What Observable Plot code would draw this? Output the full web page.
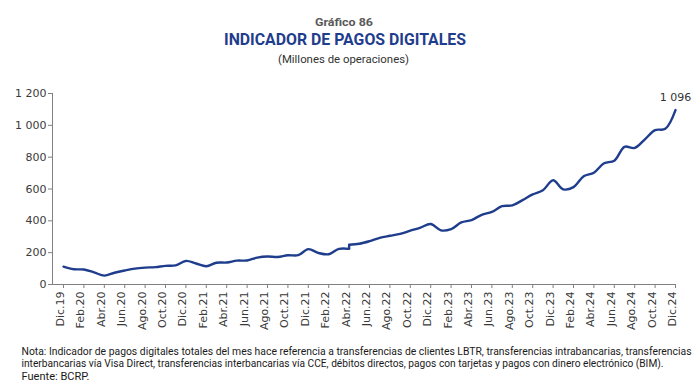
<!DOCTYPE html>
<html><head><meta charset="utf-8">
<script src="https://cdn.jsdelivr.net/npm/d3@7"></script>
<script src="https://cdn.jsdelivr.net/npm/@observablehq/plot@0.6"></script>
<style>
html,body{margin:0;padding:0;background:#fff}
body{width:700px;height:391px;overflow:hidden;position:relative}
#head,#chart,#note{position:absolute;left:0}
#head{top:0}
#chart{top:70px}
#note{top:338px}
</style></head><body>
<div id="head"></div><div id="chart"></div><div id="note"></div>
<script>
// Etiquetas del eje X (cada dos meses, Dic.19 – Dic.24)
const etiquetasX = ["Dic.19","Feb.20","Abr.20","Jun.20","Ago.20","Oct.20","Dic.20","Feb.21","Abr.21","Jun.21","Ago.21","Oct.21","Dic.21","Feb.22","Abr.22","Jun.22","Ago.22","Oct.22","Dic.22","Feb.23","Abr.23","Jun.23","Ago.23","Oct.23","Dic.23","Feb.24","Abr.24","Jun.24","Ago.24","Oct.24","Dic.24"];
// Serie mensual (millones de operaciones), Dic.19 – Abr.22
const valoresA = [112,96,94,76,56,74,88,100,106,109,117,120,148,132,115,137,138,150,151,169,176,173,184,184,222,198,190,224,224];
// Serie mensual ampliada, Abr.22 – Dic.24
const inicioB = 28;
const valoresB = [250,256,272,293,306,318,338,358,380,340,348,390,405,438,456,492,497,530,566,592,655,598,612,680,702,762,778,865,858,912,970,978,1096];
const ticksY = [0,200,400,600,800,1000,1200];

const titulo = "INDICADOR DE PAGOS DIGITALES";
const numero = "Gráfico 86";
const subtitulo = "(Millones de operaciones)";
const nota = [
  "Nota:  Indicador de pagos digitales totales del mes hace referencia a transferencias de clientes LBTR, transferencias intrabancarias, transferencias",
  "interbancarias vía Visa Direct, transferencias interbancarias vía CCE, débitos directos, pagos con tarjetas y pagos con dinero electrónico (BIM).",
  "Fuente: BCRP."
];

const azul = "#1f3d8d";
const fmt = d3.formatLocale({decimal:",", thousands:" ", grouping:[3], currency:["",""]}).format(",");

// Encabezado
const head = d3.select("#head").append("svg").attr("width",700).attr("height",70);
head.append("text").attr("x",344).attr("y",26).attr("text-anchor","middle")
  .attr("font-family","Roboto, 'Open Sans', sans-serif").attr("font-weight","bold").attr("font-size",11.5)
  .attr("fill","#595959").attr("textLength",58).attr("lengthAdjust","spacingAndGlyphs").text(numero);
head.append("text").attr("x",345).attr("y",45).attr("text-anchor","middle")
  .attr("font-family","Roboto, 'Open Sans', sans-serif").attr("font-weight","bold").attr("font-size",16.5)
  .attr("fill",azul).attr("textLength",242).attr("lengthAdjust","spacingAndGlyphs").text(titulo);
head.append("text").attr("x",343.5).attr("y",63).attr("text-anchor","middle")
  .attr("font-family","Roboto, 'Open Sans', sans-serif").attr("font-size",11.5)
  .attr("fill","#333").attr("textLength",131).attr("lengthAdjust","spacingAndGlyphs").text(subtitulo);

// Datos
const filas = [
  ...valoresA.map((v,k)=>({i:k, v, s:"A"})),
  ...valoresB.map((v,k)=>({i:inicioB+k, v, s:"B"}))
];
const salto = [{i:inicioB, v1:valoresA[valoresA.length-1], v2:valoresB[0]}];
const ultimo = filas[filas.length-1];
const xmin = -1.08;
const ticksX = etiquetasX.map((_,k)=>k*2);

const chart = Plot.plot({
  width:700, height:268,
  marginLeft:52, marginRight:25, marginTop:23, marginBottom:54,
  style:{fontFamily:"'DejaVu Sans', sans-serif", fontSize:"11px", color:"#3a3a3a", background:"white"},
  x:{type:"linear", domain:[xmin, 60], label:null},
  y:{domain:[0,1200], label:null},
  marks:[
    Plot.axisY({ticks:ticksY, tickFormat:fmt, tickSize:4, tickPadding:2, stroke:"#808080", label:null}),
    Plot.axisX({ticks:ticksX, tickFormat:()=>"", tickSize:4, stroke:"#808080", label:null}),
    Plot.axisX({ticks:ticksX, tickFormat:d=>etiquetasX[d/2], tickRotate:-90, tickSize:0, tickPadding:7, dx:-3, label:null}),
    Plot.ruleX([xmin], {stroke:"#808080"}),
    Plot.ruleY([0], {stroke:"#808080"}),
    Plot.line(filas, {x:"i", y:"v", z:"s", stroke:azul, strokeWidth:2.4, curve:"catmull-rom"}),
    Plot.link(salto, {x1:"i", x2:"i", y1:"v1", y2:"v2", stroke:azul, strokeWidth:2.4}),
    Plot.text([ultimo], {x:"i", y:"v", text:d=>fmt(d.v), dy:-13, fill:"#333", fontSize:11})
  ]
});
document.getElementById("chart").appendChild(chart);

// Nota
const note = d3.select("#note").append("svg").attr("width",700).attr("height",53);
const anchos = [670, 642, 68];
nota.forEach((t,k)=>{
  note.append("text").attr("x",21.5).attr("y",17 + k*12.3)
    .attr("font-family","Roboto, 'Open Sans', sans-serif").attr("font-size",10.5).attr("fill","#1a1a1a")
    .attr("textLength",anchos[k]).attr("lengthAdjust","spacingAndGlyphs").text(t);
});
</script>
</body></html>
